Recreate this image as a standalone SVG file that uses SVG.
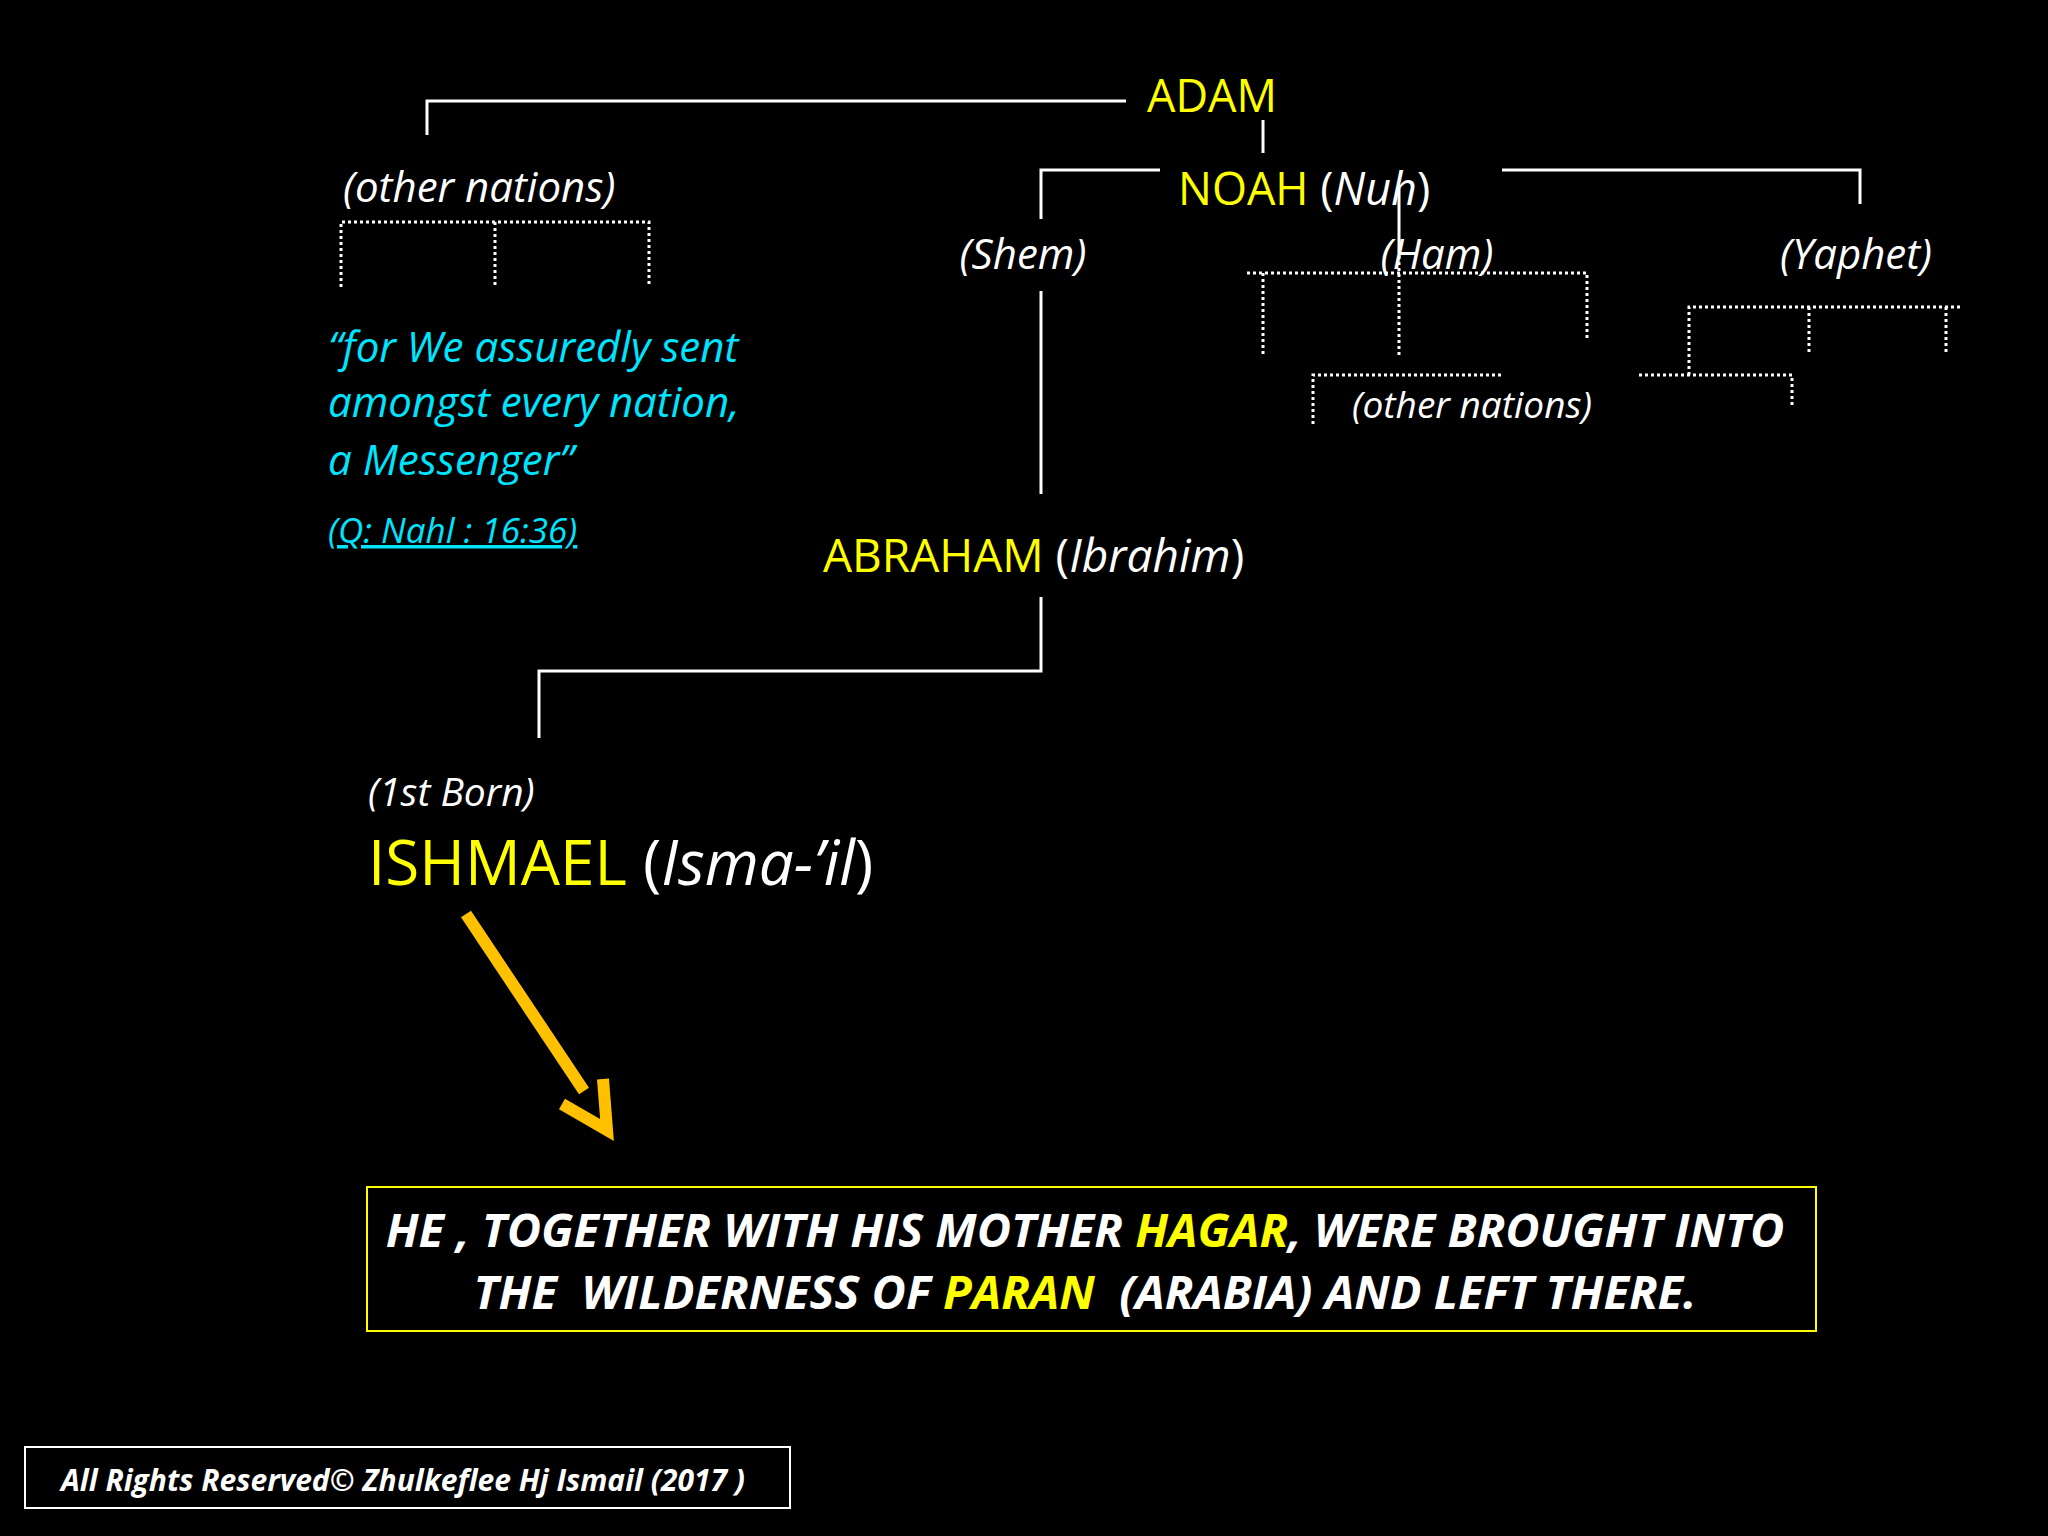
<svg xmlns="http://www.w3.org/2000/svg" width="2048" height="1536" viewBox="0 0 2048 1536">
<style>
text{font-family:"Open Sans",Lato,sans-serif;white-space:pre}
.y{fill:#ffff00}.w{fill:#fff}.i{font-style:italic}.c{fill:#00e5ff;font-style:italic}
.s{stroke:#fff;stroke-width:3;fill:none}
.d{stroke:#fff;stroke-width:3;fill:none;stroke-dasharray:3 3}
.b{font-weight:bold;font-style:italic;fill:#fff}
</style>
<rect width="2048" height="1536" fill="#000"/>
<g id="connectors">
<path class="s" d="M427 135V101H1126M1263 120V153M1041 219V170H1160M1502 170H1860V204M1399 187V250M1041 291V494M1041 597V671H539V738"/>
<path class="d" d="M341 287V222H649V287M495 222V287M1247 273H1587V340M1263 273V355M1399 250V355M1313 424V375H1502M1689 375V307H1962M1946 307V355M1809 307V355M1639 375H1792V407"/>
<path d="M466 914L584 1091M562 1104L607 1130L603 1079" stroke="#ffc000" stroke-width="12" fill="none"/>
</g>
<g id="adam"><text x="1147" y="112" font-size="45" class="y">ADAM</text></g>
<g id="noah"><text x="1178" y="205" font-size="45" class="y">NOAH <tspan class="w">(</tspan><tspan class="w i">Nuh</tspan><tspan class="w">)</tspan></text></g>
<g id="other1"><text x="343" y="202" font-size="42" class="w i">(other nations)</text></g>
<g id="quote"><text font-size="42" class="c"><tspan x="328" y="362">“for We assuredly sent</tspan><tspan x="328" y="417">amongst every nation,</tspan><tspan x="328" y="475">a Messenger”</tspan></text>
<text x="328" y="543" font-size="35" class="c" text-decoration="underline">(Q: Nahl : 16:36)</text></g>
<g id="shem"><text x="1023" y="269" font-size="42" class="w i" text-anchor="middle">(Shem)</text></g>
<g id="ham"><text x="1437" y="269" font-size="42" class="w i" text-anchor="middle">(Ham)</text></g>
<g id="yaphet"><text x="1856" y="269" font-size="42" class="w i" text-anchor="middle">(Yaphet)</text></g>
<g id="other2"><text x="1352" y="418" font-size="37" class="w i">(other nations)</text></g>
<g id="abraham"><text x="823" y="572" font-size="46" class="y">ABRAHAM <tspan class="w">(</tspan><tspan class="w i">Ibrahim</tspan><tspan class="w">)</tspan></text></g>
<g id="ishmael"><text x="368" y="806" font-size="39" class="w i">(1st Born)</text>
<text x="368" y="885" font-size="62" class="y">ISHMAEL <tspan class="w">(</tspan><tspan class="w i">Isma-’il</tspan><tspan class="w">)</tspan></text></g>
<g id="note"><rect x="367" y="1187" width="1449" height="144" fill="none" stroke="#ffff00" stroke-width="2"/>
<text font-size="47" class="b" text-anchor="middle"><tspan x="1085" y="1247">HE , TOGETHER WITH HIS MOTHER <tspan fill="#ffff00">HAGAR</tspan>, WERE BROUGHT INTO</tspan><tspan x="1085" y="1309">THE  WILDERNESS OF <tspan fill="#ffff00">PARAN</tspan>  (ARABIA) AND LEFT THERE.</tspan></text></g>
<g id="footer"><rect x="25" y="1447" width="765" height="61" fill="none" stroke="#fff" stroke-width="2"/>
<text x="61" y="1491" font-size="30" class="b">All Rights Reserved© Zhulkeflee Hj Ismail (2017 )</text></g>
</svg>
